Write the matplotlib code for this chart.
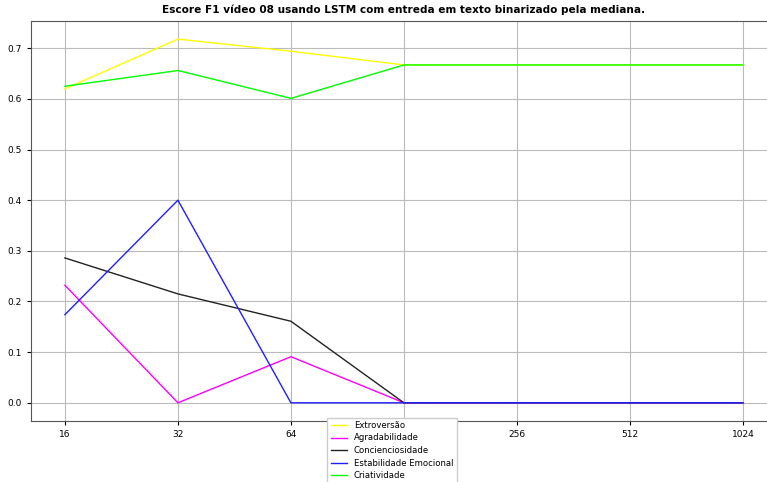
import matplotlib
matplotlib.use("Agg")
import matplotlib.pyplot as plt

# data
sizes = ['16', '32', '64', '128', '256', '512', '1024']
extroversao = [0.620, 0.718, 0.694, 0.667, 0.667, 0.667, 0.667]
agradabilidade = [0.232, 0.0, 0.091, 0.0, 0.0, 0.0, 0.0]
conscienciosidade = [0.286, 0.215, 0.161, 0.0, 0.0, 0.0, 0.0]
estabilidade = [0.174, 0.400, 0.0, 0.0, 0.0, 0.0, 0.0]
criatividade = [0.625, 0.656, 0.601, 0.667, 0.667, 0.667, 0.667]

fig = plt.figure(figsize=(7.67, 4.82), dpi=100)
ax = fig.add_axes([0.0404, 0.1266, 0.9724, 0.830])

x = range(len(sizes))
ax.plot(x, extroversao, color='yellow', lw=1, label='Extroversão')
ax.plot(x, agradabilidade, color='magenta', lw=1, label='Agradabilidade')
ax.plot(x, conscienciosidade, color='#222222', lw=1, label='Concienciosidade')
ax.plot(x, estabilidade, color='#2020ff', lw=1, label='Estabilidade Emocional')
ax.plot(x, criatividade, color='lime', lw=1, label='Criatividade')

ax.set_xticks(list(x))
ax.set_xticklabels(sizes)
ax.tick_params(labelsize=6.5, length=3)
ax.grid(True, color='#bbbbbb', lw=0.8)
for s in ax.spines.values():
    s.set_color('#555555')
ax.set_title('Escore F1 vídeo 08 usando LSTM com entreda em texto binarizado pela mediana.',
             fontsize=7.6, fontweight='bold')

fig.legend(loc='upper center', bbox_to_anchor=(392/767, 1 - 415/482), fontsize=6.1,
           labelspacing=0.42, handlelength=1.9, borderaxespad=0.3, framealpha=1,
           fancybox=False, edgecolor='#cccccc')

fig.savefig('out.png', dpi=100)
